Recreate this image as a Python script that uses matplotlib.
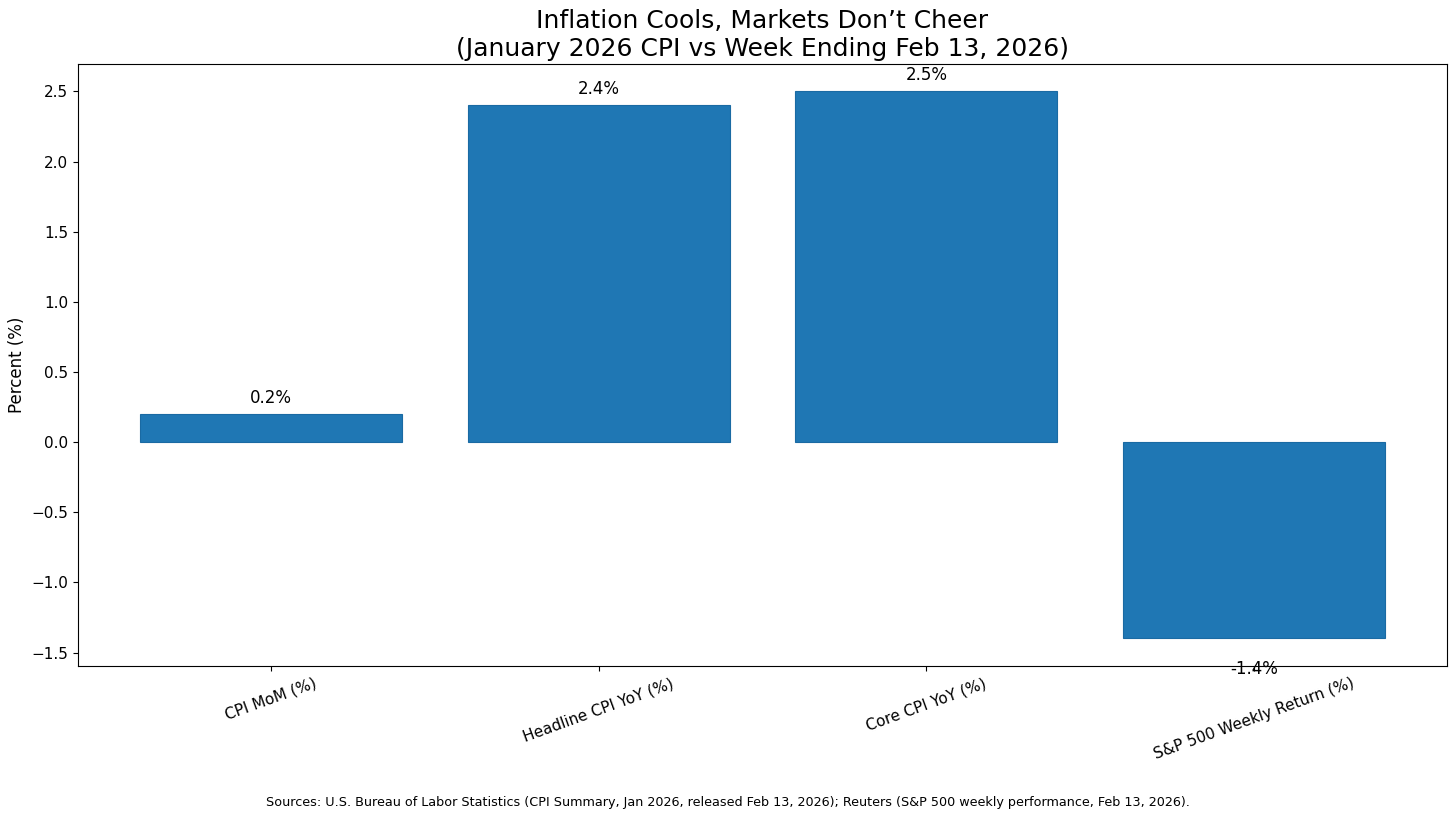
import matplotlib
matplotlib.use("Agg")
import matplotlib.pyplot as plt

categories = ["CPI MoM (%)", "Headline CPI YoY (%)", "Core CPI YoY (%)", "S&P 500 Weekly Return (%)"]
values = [0.2, 2.4, 2.5, -1.4]

fig, ax = plt.subplots(figsize=(14.56, 8.21), dpi=100)
bars = ax.bar(categories, values, color="#1f77b4", edgecolor="#1a6aa3", linewidth=0.8)

for i, v in enumerate(values):
    if v >= 0:
        ax.text(i, v + 0.05, f"{v:.1f}%", ha="center", va="bottom", fontsize=12)
    else:
        ax.text(i, v - 0.15, f"{v:.1f}%", ha="center", va="top", fontsize=12)

ax.set_title("Inflation Cools, Markets Don\u2019t Cheer\n(January 2026 CPI vs Week Ending Feb 13, 2026)", fontsize=18)
ax.set_ylabel("Percent (%)", fontsize=12)
ax.tick_params(axis="both", labelsize=11)
plt.setp(ax.get_xticklabels(), rotation=20)

fig.text(0.5, 0.022, "Sources: U.S. Bureau of Labor Statistics (CPI Summary, Jan 2026, released Feb 13, 2026); "
         "Reuters (S&P 500 weekly performance, Feb 13, 2026).", ha="center", va="center", fontsize=9.15)

fig.subplots_adjust(left=0.0536, right=0.9938, top=0.922, bottom=0.189)
fig.savefig("out.png", dpi=100)
